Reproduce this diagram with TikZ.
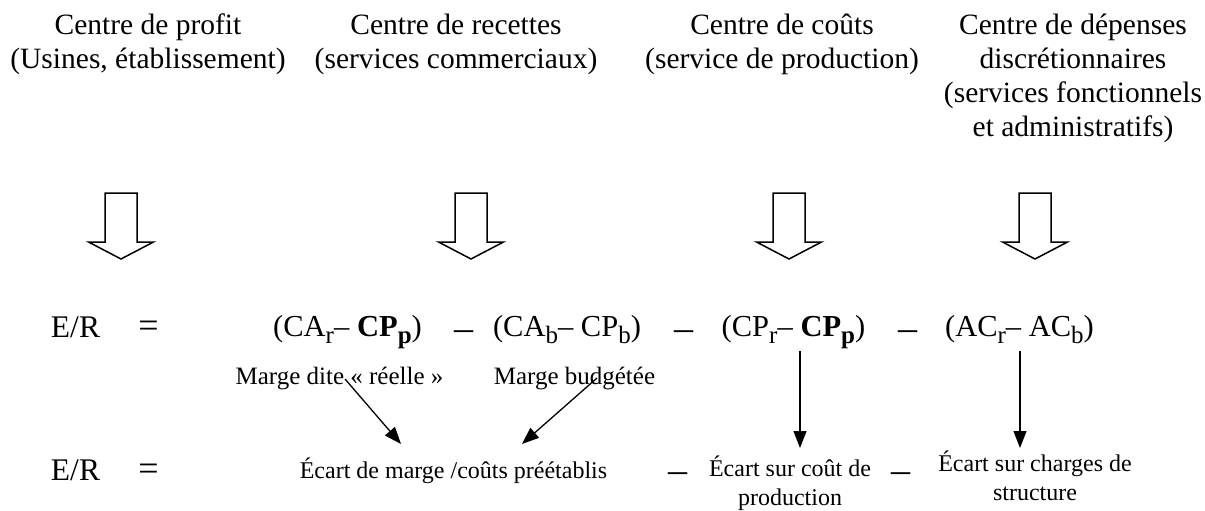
\documentclass[tikz,border=0pt]{standalone}
\usepackage{fontspec}
\setmainfont{Liberation Serif}
\usetikzlibrary{arrows.meta}
% lowered subscript letters and the low dash between terms
\newcommand\sbx[1]{\raisebox{-7.5pt}{\fontsize{25}{25}\selectfont #1}}
\newcommand\lowdash{\raisebox{-4pt}{\fontsize{38}{38}\selectfont –}}
\begin{document}
\begin{tikzpicture}[x=1pt,y=-1pt,
  head/.style={font=\fontsize{29.5}{34}\selectfont, align=center, anchor=base, inner sep=0pt},
  eqn/.style={font=\fontsize{30.5}{34}\selectfont, anchor=base, inner sep=0pt},
  lhs/.style={font=\fontsize{31.5}{34}\selectfont, anchor=base, inner sep=0pt},
  sign/.style={font=\fontsize{36}{36}\selectfont, anchor=base, inner sep=0pt},
  label/.style={font=\fontsize{25}{29}\selectfont, anchor=base, inner sep=0pt},
  note/.style={font=\fontsize{24}{29}\selectfont, align=center, anchor=base, inner sep=0pt},
  hollow/.style={draw=black, line width=1.5pt, fill=white, line join=miter},
  link/.style={draw=black, line width=1.3pt, -{Triangle[length=17pt,width=13pt]}}]
\useasboundingbox (0,0) rectangle (1205,511);

% responsibility centres (a node's base is the baseline of its last line)
\node[head] (h1) at (148,68.5) {Centre de profit\\(Usines, établissement)};
\node[head] (h2) at (456,68.5) {Centre de recettes\\(services commerciaux)};
\node[head] (h3) at (782,68.5) {Centre de coûts\\(service de production)};
\node[head] (h4) at (1073,136.5) {Centre de dépenses\\discrétionnaires\\(services fonctionnels\\et administratifs)};

% hollow downward arrows
\foreach \x in {121,471,789,1035}
  \draw[hollow] (\x-16,193) -- (\x-16,242) -- (\x-32.5,242) -- (\x,259)
     -- (\x+32.5,242) -- (\x+16,242) -- (\x+16,193) -- cycle;

% first decomposition
\node[lhs] (er1) at (75.5,337) {E/R};
\node[sign] (eq1) at (148.5,337) {=};
\node[eqn] (g1) at (347.5,336) {(CA\sbx{r}– \textbf{CP\sbx{p}})};
\node[eqn] (d1) at (463.5,336) {\lowdash};
\node[eqn] (g2) at (567,336) {(CA\sbx{b}– CP\sbx{b})};
\node[eqn] (d2) at (683.5,336) {\lowdash};
\node[eqn] (g3) at (793.5,336) {(CP\sbx{r}– \textbf{CP\sbx{p}})};
\node[eqn] (d3) at (907.5,336) {\lowdash};
\node[eqn] (g4) at (1019.5,336) {(AC\sbx{r}– AC\sbx{b})};

% margin labels
\node[label] (l1) at (339.5,384) {Marge dite « réelle »};
\node[label] (l2) at (574.5,384) {Marge budgétée};

% second decomposition
\node[lhs] (er2) at (75.5,480) {E/R};
\node[sign] (eq2) at (148.5,480) {=};
\node[note] (b1) at (453.5,478) {Écart de marge /coûts préétablis};
\node[eqn] (d4) at (678,478) {\lowdash};
\node[note] (b2) at (790,505) {Écart sur coût de\\production};
\node[eqn] (d5) at (901,478) {\lowdash};
\node[note] (b3) at (1035,500) {Écart sur charges de\\structure};

% arrow end points
\coordinate (s1) at (345,379);
\coordinate (t1) at (401,444);
\coordinate (s2) at (597,378);
\coordinate (t2) at (522,444);
\coordinate (s3) at (800,351);
\coordinate (t3) at (800,448);
\coordinate (s4) at (1020,351);
\coordinate (t4) at (1020,448);

\draw[link] (s1) -- (t1);
\draw[link] (s2) -- (t2);
\draw[link] (s3) -- (t3);
\draw[link] (s4) -- (t4);
\end{tikzpicture}
\end{document}
